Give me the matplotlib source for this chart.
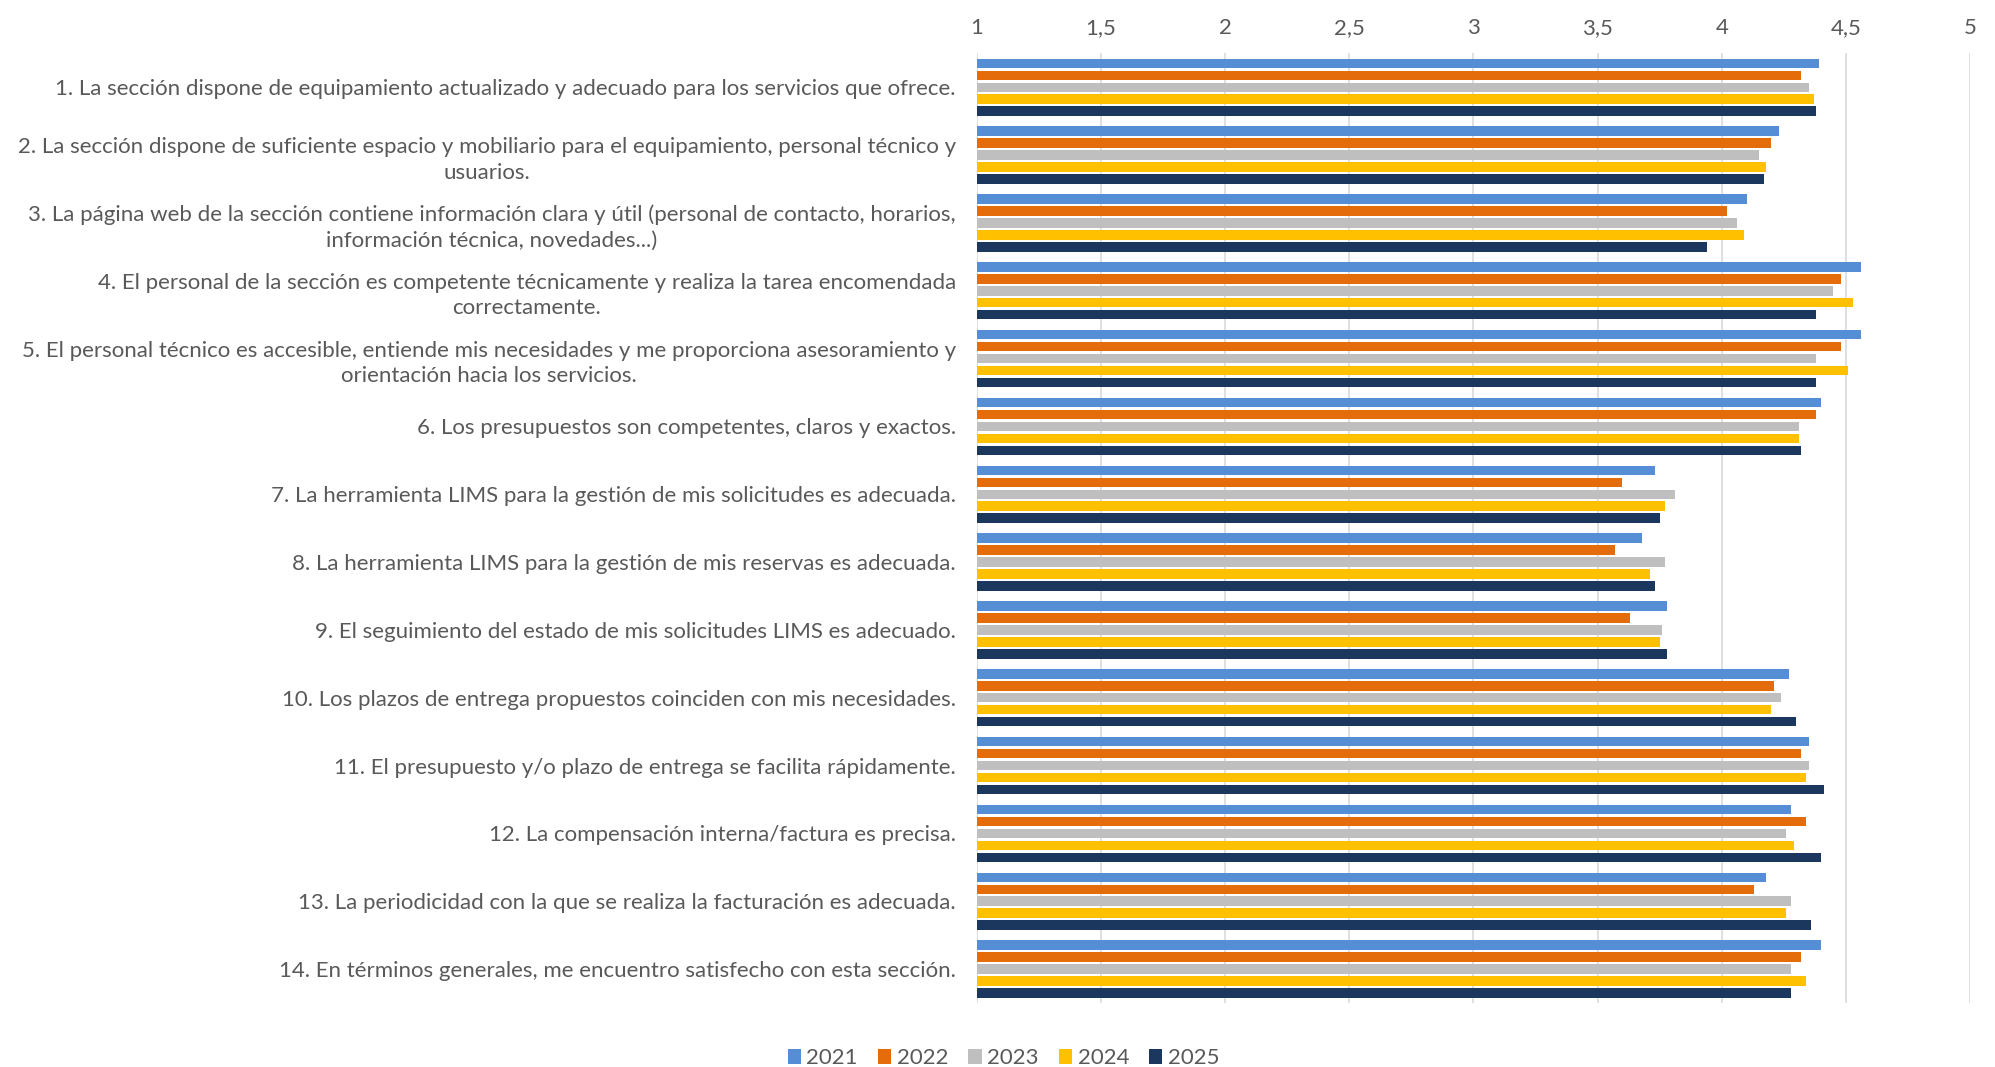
import numpy as np
import matplotlib
matplotlib.use("Agg")
import matplotlib.pyplot as plt

# Survey questions (y categories), top to bottom
questions = [
    "1. La sección dispone de equipamiento actualizado y adecuado para los servicios que ofrece.",
    "2. La sección dispone de suficiente espacio y mobiliario para el equipamiento, personal técnico y\nusuarios.",
    "3. La página web de la sección contiene información clara y útil (personal de contacto, horarios,\ninformación técnica, novedades...)",
    "4. El personal de la sección es competente técnicamente y realiza la tarea encomendada\ncorrectamente.",
    "5. El personal técnico es accesible, entiende mis necesidades y me proporciona asesoramiento y\norientación hacia los servicios.",
    "6. Los presupuestos son competentes, claros y exactos.",
    "7. La herramienta LIMS para la gestión de mis solicitudes es adecuada.",
    "8. La herramienta LIMS para la gestión de mis reservas es adecuada.",
    "9. El seguimiento del estado de mis solicitudes LIMS es adecuado.",
    "10. Los plazos de entrega propuestos coinciden con mis necesidades.",
    "11. El presupuesto y/o plazo de entrega se facilita rápidamente.",
    "12. La compensación interna/factura es precisa.",
    "13. La periodicidad con la que se realiza la facturación es adecuada.",
    "14. En términos generales, me encuentro satisfecho con esta sección.",
]

years = ["2021", "2022", "2023", "2024", "2025"]

v2021 = [4.39, 4.23, 4.10, 4.56, 4.56, 4.40, 3.73, 3.68, 3.78, 4.27, 4.35, 4.28, 4.18, 4.40]
v2022 = [4.32, 4.20, 4.02, 4.48, 4.48, 4.38, 3.60, 3.57, 3.63, 4.21, 4.32, 4.34, 4.13, 4.32]
v2023 = [4.35, 4.15, 4.06, 4.45, 4.38, 4.31, 3.81, 3.77, 3.76, 4.24, 4.35, 4.26, 4.28, 4.28]
v2024 = [4.37, 4.18, 4.09, 4.53, 4.51, 4.31, 3.77, 3.71, 3.75, 4.20, 4.34, 4.29, 4.26, 4.34]
v2025 = [4.38, 4.17, 3.94, 4.38, 4.38, 4.32, 3.75, 3.73, 3.78, 4.30, 4.41, 4.40, 4.36, 4.28]

colors = ["#558ED5", "#E46C0A", "#BFBFBF", "#FFC000", "#1B375E"]

xticks = [1, 1.5, 2, 2.5, 3, 3.5, 4, 4.5, 5]
xtick_labels = ["1", "1,5", "2", "2,5", "3", "3,5", "4", "4,5", "5"]

plt.rcParams['font.family'] = ['Lato', 'DejaVu Sans']
text_color = "#595959"

fig = plt.figure(figsize=(19.95, 10.67), dpi=100)
ax = fig.add_axes([0.4896, 0.060, 0.4979, 0.890])

series = [v2021, v2022, v2023, v2024, v2025]
y = np.arange(len(questions))
pitch = 0.176
bar_h = 0.14
for i, (vals, col, yr) in enumerate(zip(series, colors, years)):
    offs = (i - 2) * pitch
    ax.barh(y + offs, np.array(vals) - 1, left=1, height=bar_h, color=col,
            label=yr, zorder=3)

ax.set_xlim(1, 5)
ax.set_ylim(len(questions) - 0.5, -0.5)
ax.set_xticks(xticks)
ax.set_xticklabels(xtick_labels, fontsize=16, color=text_color)
ax.xaxis.tick_top()
ax.set_yticks(y)
ax.set_yticklabels(questions, fontsize=16, color=text_color)
for t in ax.get_yticklabels():
    t.set_multialignment('center')
    t.set_linespacing(1.35)
ax.tick_params(axis='both', length=0)
ax.tick_params(axis='y', pad=15)
ax.tick_params(axis='x', pad=11)
ax.grid(axis='x', color='#D9D9D9', linewidth=1.2, zorder=0)
for s in ax.spines.values():
    s.set_visible(False)

fig.legend(loc='lower center', bbox_to_anchor=(0.503, -0.02), ncol=5, frameon=False,
           fontsize=16, handlelength=0.6, handleheight=0.6, handletextpad=0.25,
           columnspacing=0.9, labelcolor=text_color)

fig.savefig("out.png", dpi=100)
